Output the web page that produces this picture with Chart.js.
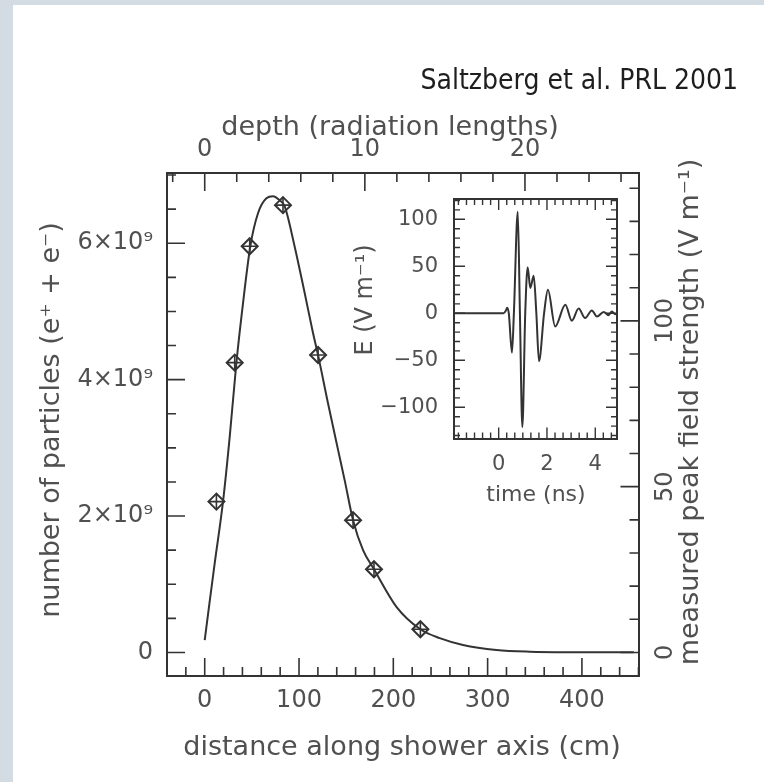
<!DOCTYPE html>
<html>
<head>
<meta charset="utf-8">
<title>Shower profile and radio pulse</title>
<script src="https://cdn.jsdelivr.net/npm/chart.js@4.4.1/dist/chart.umd.min.js"></script>
<style>
  html, body { margin: 0; padding: 0; background: #d3dbe3; }
  #page { position: relative; width: 764px; height: 782px; overflow: hidden; }
  #panel { position: absolute; left: 13px; top: 5px; right: 0; bottom: 0; background: #ffffff; }
  canvas { position: absolute; left: 0; top: 0; }
</style>
</head>
<body>
<div id="page">
  <div id="panel"></div>
  <canvas id="profile" width="764" height="782"></canvas>
  <canvas id="pulse" width="764" height="782"></canvas>
</div>
<script>
// Longitudinal shower profile: distance along the axis (cm) and number of e+ e- particles
const profileDistance = [0, 5, 10.6, 19.4, 26.5, 33.6, 40.6, 48.4, 56.5, 65.4, 72.4, 79.5, 84.8, 95.4, 106, 114.9,
  120.2, 130.8, 141.4, 148.5, 157.3, 167.9, 179.5, 203.3, 228.7, 249.2, 273.9, 309.3, 344.6, 397.7, 455];
const profileParticles = [0.18e9, 0.72e9, 1.31e9, 2.21e9, 3.16e9, 4.25e9, 5.12e9, 5.96e9, 6.44e9, 6.66e9, 6.69e9,
  6.63e9, 6.54e9, 5.95e9, 5.27e9, 4.68e9, 4.36e9, 3.65e9, 2.97e9, 2.52e9, 1.94e9, 1.50e9, 1.22e9, 0.67e9, 0.34e9,
  0.21e9, 0.11e9, 0.037e9, 0.012e9, 0.004e9, 0.002e9];

// Measured peak field strength (V/m) at each position along the shower
const fieldDistance = [12.4, 31.8, 47.7, 83.0, 120.2, 157.3, 179.5, 228.7];
const fieldStrength = [45.5, 87.4, 122.5, 134.9, 89.7, 39.9, 25.1, 7.0];

// Recorded radio pulse: time (ns) and field (V/m)
const pulseTime = [-1.85, 0.2, 0.3, 0.35, 0.42, 0.55, 0.63, 0.79, 0.88, 0.98, 1.1, 1.2, 1.31, 1.45, 1.56, 1.67,
  1.88, 2.04, 2.34, 2.76, 3.03, 3.31, 3.58, 3.86, 4.07, 4.35, 4.55, 4.69, 4.83, 4.9];
const pulseField = [0, 0, 3, 6, 0, -42, 0, 108, 0, -121, 0, 49, 27, 40, 0, -51,
  0, 25, -14, 9, -8, 5, -5, 3, -3.5, 1.5, -2, 2, -1, 0];

// Tick values and labels
const distanceTicks = [0, 100, 200, 300, 400];
const depthTicks = [0, 10, 20];
const particleTicks = [0, 2e9, 4e9, 6e9];
const particleTickLabels = ['0', '2×10⁹', '4×10⁹', '6×10⁹'];
const fieldTicks = [0, 50, 100];
const timeTicks = [0, 2, 4];
const pulseTicks = [-100, -50, 0, 50, 100];
const pulseTickLabels = ['−100', '−50', '0', '50', '100'];

const RADIATION_LENGTH_CM = 16.98;

const FAMILY = "'DejaVu Sans', 'Liberation Sans', sans-serif";
const INK = '#333333';
const TEXT = '#505050';

function pinSize(prop, px) { return scale => { scale[prop] = px; }; }
function useTicks(values) { return scale => { scale.ticks = values.map(value => ({ value })); }; }

// Tick marks drawn inward from the frame, with minor ticks between the labelled ones
function inwardTicks(sets, color, width) {
  return {
    id: 'inwardTicks',
    afterDatasetsDraw(chart) {
      const { ctx, chartArea: a } = chart;
      ctx.save();
      ctx.strokeStyle = color;
      ctx.lineWidth = width;
      ctx.beginPath();
      for (const s of sets) {
        const scale = chart.scales[s.scale];
        const marks = s.major.map(v => [v, s.majorLen]);
        const first = Math.ceil(scale.min / s.minorStep - 1e-6);
        for (let k = first; k * s.minorStep <= scale.max + 1e-6 * s.minorStep; k++) {
          const v = k * s.minorStep;
          const isMajor = s.major.some(m => Math.abs(m - v) < 1e-6 * Math.max(1, Math.abs(m)));
          if (!isMajor) marks.push([v, s.minorLen]);
        }
        for (const [v, len] of marks) {
          const p = scale.getPixelForValue(v);
          for (const edge of s.edges) {
            if (edge === 'bottom') { ctx.moveTo(p, a.bottom); ctx.lineTo(p, a.bottom - len); }
            else if (edge === 'top') { ctx.moveTo(p, a.top); ctx.lineTo(p, a.top + len); }
            else if (edge === 'left') { ctx.moveTo(a.left, p); ctx.lineTo(a.left + len, p); }
            else { ctx.moveTo(a.right, p); ctx.lineTo(a.right - len, p); }
          }
        }
      }
      ctx.stroke();
      ctx.restore();
    }
  };
}

// Axis captions and the citation line
function captions(items) {
  return {
    id: 'captions',
    afterDraw(chart) {
      const ctx = chart.ctx;
      for (const c of items) {
        ctx.save();
        ctx.translate(c.x, c.y);
        ctx.rotate((c.angle || 0) * Math.PI / 180);
        ctx.font = c.font;
        ctx.fillStyle = c.color;
        ctx.textAlign = c.align || 'center';
        ctx.textBaseline = c.baseline || 'alphabetic';
        ctx.fillText(c.text, 0, 0);
        ctx.restore();
      }
    }
  };
}

const tickFont = size => ({ family: FAMILY, size });
const noGrid = { display: false, drawTicks: false };
const frame = { display: true, color: INK, width: 2 };

// Main panel: shower profile with measured field strengths
new Chart(document.getElementById('profile'), {
  type: 'scatter',
  data: {
    datasets: [
      {
        label: 'shower profile',
        data: profileDistance.map((x, i) => ({ x, y: profileParticles[i] })),
        xAxisID: 'x', yAxisID: 'y',
        showLine: true, fill: false,
        borderColor: INK, borderWidth: 2,
        pointRadius: 0, pointHoverRadius: 0,
        cubicInterpolationMode: 'monotone'
      },
      {
        label: 'peak field',
        data: fieldDistance.map((x, i) => ({ x, y: fieldStrength[i] })),
        xAxisID: 'x', yAxisID: 'y2',
        pointStyle: 'rectRot', pointRadius: 8,
        borderColor: INK, borderWidth: 2, backgroundColor: 'rgba(0,0,0,0)'
      },
      {
        label: 'peak field (cross)',
        data: fieldDistance.map((x, i) => ({ x, y: fieldStrength[i] })),
        xAxisID: 'x', yAxisID: 'y2',
        pointStyle: 'cross', pointRadius: 8,
        borderColor: INK, borderWidth: 1.6, backgroundColor: 'rgba(0,0,0,0)'
      }
    ]
  },
  options: {
    responsive: false,
    animation: false,
    devicePixelRatio: 1,
    layout: { padding: 0 },
    plugins: { legend: { display: false }, tooltip: { enabled: false } },
    scales: {
      x: {
        type: 'linear', position: 'bottom', min: -40, max: 460,
        afterBuildTicks: useTicks(distanceTicks), afterFit: pinSize('height', 106),
        grid: noGrid, border: frame,
        ticks: { color: TEXT, font: tickFont(24), padding: 10, maxRotation: 0, autoSkip: false, callback: v => String(v) }
      },
      xTop: {
        type: 'linear', axis: 'x', position: 'top',
        min: -40 / RADIATION_LENGTH_CM, max: 460 / RADIATION_LENGTH_CM,
        afterBuildTicks: useTicks(depthTicks), afterFit: pinSize('height', 173),
        grid: noGrid, border: frame,
        ticks: { color: TEXT, font: tickFont(24), padding: 9, maxRotation: 0, autoSkip: false, callback: v => String(v) }
      },
      y: {
        type: 'linear', position: 'left', min: -0.345e9, max: 7.03e9,
        afterBuildTicks: useTicks(particleTicks), afterFit: pinSize('width', 167),
        grid: noGrid, border: frame,
        ticks: { color: TEXT, font: tickFont(24), padding: 14, autoSkip: false, callback: (v, i) => particleTickLabels[i] }
      },
      y2: {
        type: 'linear', position: 'right', min: -7.1, max: 144.6,
        afterBuildTicks: useTicks(fieldTicks), afterFit: pinSize('width', 125.5),
        grid: noGrid, border: frame,
        ticks: { color: TEXT, font: tickFont(24), padding: 4, minRotation: 90, maxRotation: 90, crossAlign: 'center', autoSkip: false, callback: v => String(v) }
      }
    }
  },
  plugins: [
    inwardTicks([
      { scale: 'x', edges: ['bottom'], major: distanceTicks, minorStep: 20, majorLen: 18, minorLen: 9 },
      { scale: 'xTop', edges: ['top'], major: depthTicks, minorStep: 2, majorLen: 18, minorLen: 9 },
      { scale: 'y', edges: ['left'], major: particleTicks, minorStep: 0.5e9, majorLen: 18, minorLen: 9 },
      { scale: 'y2', edges: ['right'], major: fieldTicks, minorStep: 10, majorLen: 18, minorLen: 9 }
    ], INK, 1.6),
    captions([
      { text: 'Saltzberg et al. PRL 2001', x: 738, y: 89, align: 'right', font: "28px 'DejaVu Sans Condensed', 'DejaVu Sans', sans-serif", color: '#1e1e1e' },
      { text: 'depth (radiation lengths)', x: 390, y: 135, font: `27px ${FAMILY}`, color: TEXT },
      { text: 'distance along shower axis (cm)', x: 402, y: 755, font: `27px ${FAMILY}`, color: TEXT },
      { text: 'number of particles (e⁺ + e⁻)', x: 52, y: 420, angle: -90, baseline: 'middle', font: `27px ${FAMILY}`, color: TEXT },
      { text: 'measured peak field strength (V m⁻¹)', x: 691, y: 412, angle: -90, baseline: 'middle', font: `27px ${FAMILY}`, color: TEXT }
    ])
  ]
});

// Inset: the recorded pulse
new Chart(document.getElementById('pulse'), {
  type: 'scatter',
  data: {
    datasets: [
      {
        label: 'pulse',
        data: pulseTime.map((x, i) => ({ x, y: pulseField[i] })),
        xAxisID: 'x', yAxisID: 'y',
        showLine: true, fill: false,
        borderColor: INK, borderWidth: 2,
        pointRadius: 0, pointHoverRadius: 0,
        cubicInterpolationMode: 'monotone'
      }
    ]
  },
  options: {
    responsive: false,
    animation: false,
    devicePixelRatio: 1,
    layout: { padding: 0 },
    plugins: { legend: { display: false }, tooltip: { enabled: false } },
    scales: {
      x: {
        type: 'linear', position: 'bottom', min: -1.85, max: 4.9,
        afterBuildTicks: useTicks(timeTicks), afterFit: pinSize('height', 343.5),
        grid: noGrid, border: frame,
        ticks: { color: TEXT, font: tickFont(21), padding: 13, maxRotation: 0, autoSkip: false, callback: v => String(v) }
      },
      xTop: {
        type: 'linear', axis: 'x', position: 'top', min: -1.85, max: 4.9,
        afterFit: pinSize('height', 199),
        grid: noGrid, border: frame, ticks: { display: false }
      },
      y: {
        type: 'linear', position: 'left', min: -133.2, max: 121.6,
        afterBuildTicks: useTicks(pulseTicks), afterFit: pinSize('width', 454),
        grid: noGrid, border: frame,
        ticks: { color: TEXT, font: tickFont(21), padding: 16, autoSkip: false, callback: (v, i) => pulseTickLabels[i] }
      },
      y2: {
        type: 'linear', position: 'right', min: -133.2, max: 121.6,
        afterFit: pinSize('width', 147),
        grid: noGrid, border: frame, ticks: { display: false }
      }
    }
  },
  plugins: [
    inwardTicks([
      { scale: 'x', edges: ['bottom', 'top'], major: timeTicks, minorStep: 1 / 3, majorLen: 11, minorLen: 6 },
      { scale: 'y', edges: ['left', 'right'], major: pulseTicks, minorStep: 10, majorLen: 11, minorLen: 6 }
    ], INK, 1.4),
    captions([
      { text: 'time (ns)', x: 536, y: 501, font: `22px ${FAMILY}`, color: TEXT },
      { text: 'E (V m⁻¹)', x: 366, y: 300, angle: -90, baseline: 'middle', font: `24px ${FAMILY}`, color: TEXT }
    ])
  ]
});
</script>
</body>
</html>
